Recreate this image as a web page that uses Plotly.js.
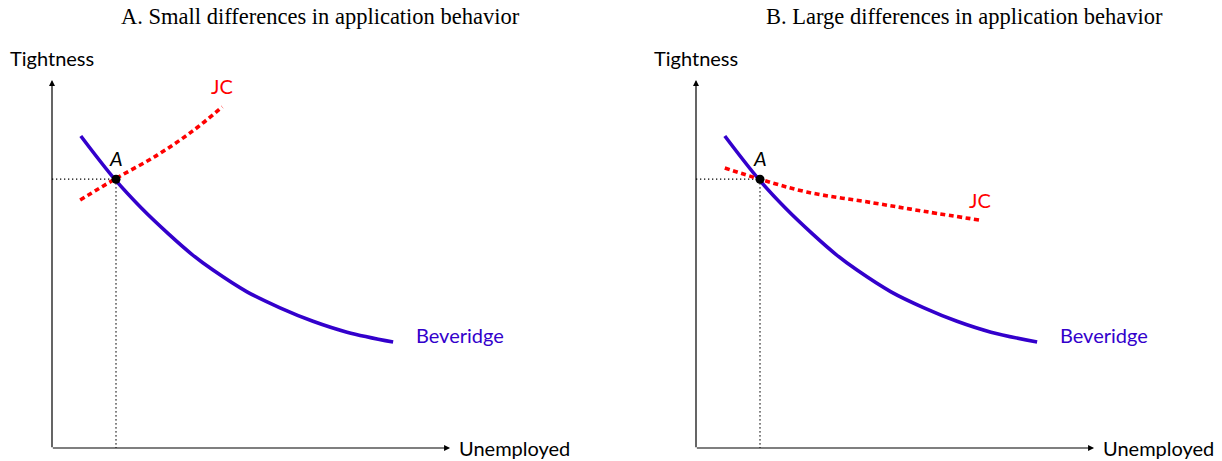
<!DOCTYPE html>
<html>
<head>
<meta charset="utf-8">
<script src="https://cdn.plot.ly/plotly-3.0.1.min.js"></script>
<style>html,body{margin:0;padding:0;background:#fff;}#chart{width:1222px;height:461px;}</style>
</head>
<body>
<div id="chart"></div>
<script>
// Panel titles
const panelTitles = ["A. Small differences in application behavior", "B. Large differences in application behavior"];
const xLabel = "Unemployed";
const yLabel = "Tightness";
const pointLabel = "A";

// Beveridge curve (same in both panels)
const bevX = [0.45, 0.98, 1.40, 1.82, 2.18, 2.516, 3.047, 3.5625, 4.078, 4.61, 5.33];
const bevY = [4.875, 4.20, 3.745, 3.345, 3.03, 2.78, 2.44, 2.19, 1.98, 1.81, 1.656];

// Job creation curve, panel A (small differences)
const jcAX = [0.44, 0.98, 1.65, 2.2, 2.66];
const jcAY = [3.875, 4.20, 4.58, 4.955, 5.33];

// Job creation curve, panel B (large differences)
const jcBX = [0.45, 1.0, 1.73, 2.77, 3.61, 4.44];
const jcBY = [4.375, 4.20, 4.00, 3.83, 3.69, 3.56];

// Equilibrium point A
const eqX = 1.0;
const eqY = 4.2;

// Axis extents
const xMax = 6.22;
const yMax = 5.75;

const blue = "#3300cc";
const red = "#ff0000";
const sans = "Lato, 'Open Sans', sans-serif";

function panelTraces(xa, ya, jcX, jcY) {
  return [
    {x: [0, eqX, eqX], y: [eqY, eqY, 0], xaxis: xa, yaxis: ya, mode: "lines",
     line: {color: "#000", width: 1.3, dash: "1.3px,2.7px"}, hoverinfo: "skip"},
    {x: bevX, y: bevY, xaxis: xa, yaxis: ya, mode: "lines",
     line: {color: blue, width: 3.6, shape: "spline", smoothing: 1}, hoverinfo: "skip"},
    {x: jcX, y: jcY, xaxis: xa, yaxis: ya, mode: "lines",
     line: {color: red, width: 3.6, dash: "5px,3.5px", shape: "spline"}, hoverinfo: "skip"},
    {x: [eqX], y: [eqY], xaxis: xa, yaxis: ya, mode: "markers",
     marker: {color: "#000", size: 9}, hoverinfo: "skip"}
  ];
}

const data = [].concat(
  panelTraces("x", "y", jcAX, jcAY),
  panelTraces("x2", "y2", jcBX, jcBY)
);

function panelAnns(xr, yr, jcLabelPos) {
  const a = [];
  // axes arrows
  a.push({xref: xr, yref: yr, axref: xr, ayref: yr, x: xMax, y: 0, ax: -0.01, ay: 0,
          showarrow: true, arrowhead: 2, arrowsize: 1, arrowwidth: 1.2, arrowcolor: "#000", text: "", standoff: 0});
  a.push({xref: xr, yref: yr, axref: xr, ayref: yr, x: 0, y: yMax, ax: 0, ay: -0.01,
          showarrow: true, arrowhead: 2, arrowsize: 1, arrowwidth: 1.2, arrowcolor: "#000", text: "", standoff: 0});
  a.push({xref: xr, yref: yr, x: 6.33, y: 0, text: xLabel, showarrow: false, xanchor: "left", yanchor: "middle",
          font: {family: sans, size: 20, color: "#000"}});
  a.push({xref: xr, yref: yr, x: 0.0, y: 6.09, text: yLabel, showarrow: false, xanchor: "center", yanchor: "middle",
          font: {family: sans, size: 20, color: "#000"}});
  a.push({xref: xr, yref: yr, x: eqX, y: 4.53, text: "<i>" + pointLabel + "</i>", showarrow: false, xanchor: "center", yanchor: "middle",
          font: {family: sans, size: 20, color: "#000"}});
  a.push({xref: xr, yref: yr, x: 5.66, y: 1.77, text: "Beveridge", showarrow: false, xanchor: "left", yanchor: "middle",
          font: {family: sans, size: 20, color: blue}});
  a.push({xref: xr, yref: yr, x: jcLabelPos[0], y: jcLabelPos[1], text: "JC", showarrow: false, xanchor: "center", yanchor: "middle",
          font: {family: sans, size: 20, color: red}});
  return a;
}

const annotations = [].concat(
  panelAnns("x", "y", [2.66, 5.66]),
  panelAnns("x2", "y2", [4.44, 3.875]),
  [
    {xref: "x", yref: "y", x: 4.19, y: 6.74, text: panelTitles[0], showarrow: false, xanchor: "center", yanchor: "middle",
     font: {family: "'Liberation Serif', serif", size: 22.5, color: "#000"}},
    {xref: "x2", yref: "y2", x: 4.2, y: 6.74, text: panelTitles[1], showarrow: false, xanchor: "center", yanchor: "middle",
     font: {family: "'Liberation Serif', serif", size: 22.5, color: "#000"}}
  ]
);

const hidden = {showgrid: false, zeroline: false, showline: false, showticklabels: false, ticks: "", fixedrange: true};

const layout = {
  width: 1222, height: 461,
  margin: {l: 0, r: 0, t: 0, b: 0},
  paper_bgcolor: "#fff", plot_bgcolor: "#fff",
  showlegend: false,
  xaxis: Object.assign({domain: [0, 0.5], range: [-52/64, 559/64]}, hidden),
  yaxis: Object.assign({domain: [0, 1], range: [-13/64, 448/64]}, hidden),
  xaxis2: Object.assign({domain: [0.5, 1], range: [-85/64, 526/64], anchor: "y2"}, hidden),
  yaxis2: Object.assign({domain: [0, 1], range: [-13/64, 448/64], anchor: "x2"}, hidden),
  annotations: annotations
};

Plotly.newPlot("chart", data, layout, {displayModeBar: false, staticPlot: true});
</script>
</body>
</html>
